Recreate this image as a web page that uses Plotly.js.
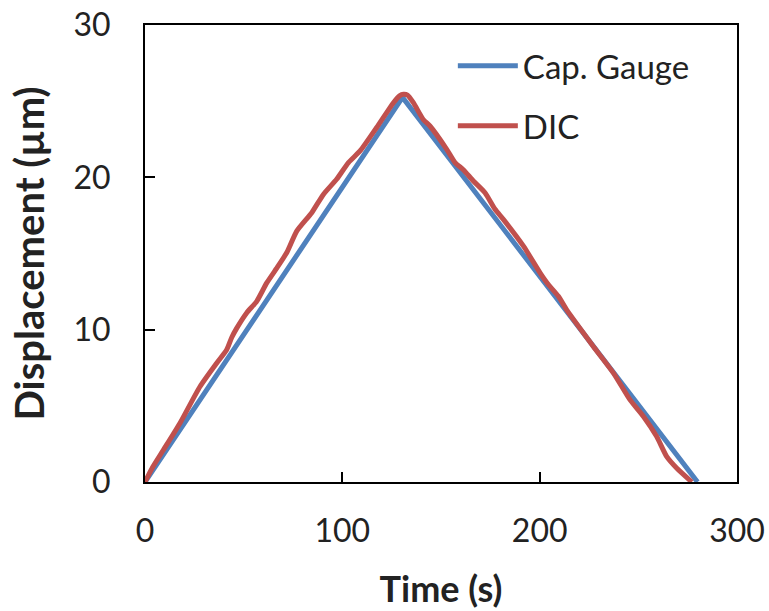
<!DOCTYPE html>
<html>
<head>
<meta charset="utf-8">
<script src="https://cdn.plot.ly/plotly-3.0.1.min.js"></script>
<style>html,body{margin:0;padding:0;background:#fff;}#chart{width:769px;height:611px;}</style>
</head>
<body>
<div id="chart"></div>
<script>
const capTime = [0, 130.5, 280];
const capDisp = [0, 25.25, 0];

const dicTime = [0, 4, 9.3, 17.7, 27.9, 36.3, 41.4, 44, 46.5, 51.5, 56.6, 61.7, 67.6, 72, 76.9, 84.5, 90.4, 97.1, 103.1, 109, 117.4, 125.9, 129, 131, 133, 136, 141, 144.4, 152.9, 157.1, 161.3, 166.4, 172.3, 177.4, 181.6, 191.8, 200.2, 204.4, 209.5, 213.7, 227.2, 237.4, 245.8, 252.6, 259.3, 264.4, 269.5, 277.1];
const dicDisp = [0, 1.0, 2.1, 3.86, 6.27, 7.8, 8.68, 9.5, 10.1, 11.1, 11.86, 13.07, 14.2, 15.1, 16.47, 17.68, 18.88, 19.87, 20.97, 21.73, 23.27, 24.9, 25.35, 25.45, 25.4, 24.9, 23.8, 23.37, 21.84, 20.97, 20.5, 19.76, 18.99, 17.9, 17.24, 15.48, 13.73, 12.96, 12.19, 11.3, 8.9, 7.15, 5.39, 4.3, 2.98, 1.66, 0.9, 0];

const xTicks = [0, 100, 200, 300];
const yTicks = [0, 10, 20, 30];

const fontFam = 'Lato, "Liberation Sans", sans-serif';
const textColor = '#222222';

const traces = [
  {x: capTime, y: capDisp, name: 'Cap. Gauge', mode: 'lines', legendgroup: 'a',
   line: {color: '#4F81BD', width: 5}},
  {x: dicTime, y: dicDisp, name: 'DIC', mode: 'lines', legendgroup: 'b',
   line: {color: '#C0504D', width: 5, shape: 'spline', smoothing: 0.6}}
];

const layout = {
  width: 769, height: 611,
  margin: {l: 145, r: 32, t: 25, b: 129},
  paper_bgcolor: '#fff', plot_bgcolor: '#fff',
  font: {family: fontFam, size: 32, color: textColor},
  showlegend: true,
  legend: {x: 0.52, y: 0.972, xanchor: 'left', yanchor: 'top', bgcolor: 'rgba(0,0,0,0)',
           font: {size: 33, color: textColor}, tracegroupgap: 14, itemwidth: 60},
  xaxis: {range: [0, 300], tickvals: xTicks, ticktext: xTicks.map(String),
          ticks: 'inside', ticklen: 10, tickwidth: 2, tickcolor: '#000',
          showline: true, linecolor: '#000', linewidth: 2, mirror: true,
          showgrid: false, zeroline: false, ticklabelstandoff: 20,
          tickfont: {size: 32},
          title: {text: '<b>Time (s)</b>', font: {size: 36, color: textColor}, standoff: 28}},
  yaxis: {range: [0, 30], tickvals: yTicks, ticktext: yTicks.map(String),
          ticks: 'inside', ticklen: 10, tickwidth: 2, tickcolor: '#000',
          showline: true, linecolor: '#000', linewidth: 2, mirror: true,
          showgrid: false, zeroline: false, ticklabelstandoff: 26,
          tickfont: {size: 32},
          title: {text: '<b>Displacement (µm)</b>', font: {size: 40, color: textColor}, standoff: 16}}
};

Plotly.newPlot('chart', traces, layout, {displayModeBar: false, staticPlot: true});
</script>
</body>
</html>
